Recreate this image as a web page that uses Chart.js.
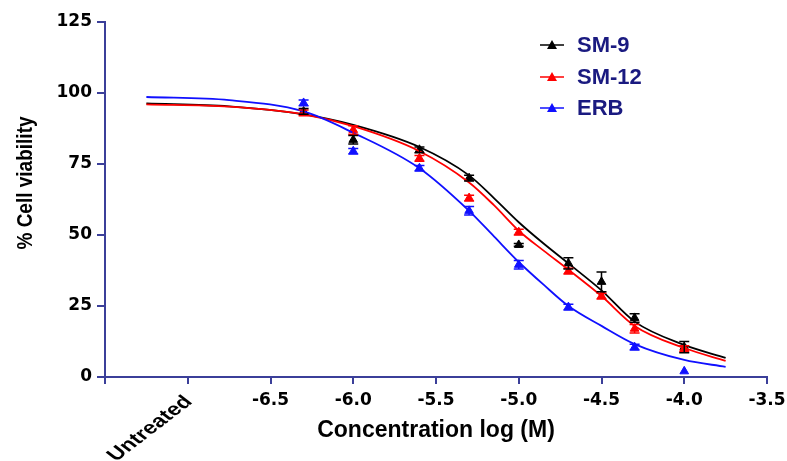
<!DOCTYPE html>
<html>
<head>
<meta charset="utf-8">
<script src="https://cdn.jsdelivr.net/npm/chart.js@4.4.1/dist/chart.umd.min.js"></script>
<style>
  html, body { margin: 0; padding: 0; background: #fff; }
  #wrap { width: 787px; height: 461px; }
</style>
</head>
<body>
<div id="wrap"><canvas id="chart"></canvas></div>
<script>
// measured points (log M)
const concX = [-6.3, -6.0, -5.6, -5.3, -5.0, -4.7, -4.5, -4.3, -4.0];
const sm9 = [93.5, 83.5, 80, 70, 46.5, 40, 33.5, 20.8, 10.5];
const sm9Err = [1, 1.5, 1, 1, 0.5, 2, 3.5, 1.5, 2];
const sm12 = [93, 87, 77, 63, 51, 37.3, 28.5, 17, 10];
const sm12Err = [1, 1.5, 1, 1, 1, 1, 1, 1.5, 1];
const erb = [96.5, 79.5, 73.5, 58.5, 39.5, 24.6, null, 10.5, 2];
const erbErr = [1, 1, 1, 1.5, 1.5, 1, 0, 1, 0];

// fitted curves
const fitX = [-7.25, -6.75, -6.3, -6.0, -5.6, -5.3, -5.15, -5.0, -4.85, -4.7, -4.5, -4.3, -4.0, -3.75];
const sm9Fit = [96.3, 95.3, 92.5, 88.8, 81, 71, 63, 54.5, 47, 40, 30.5, 19.5, 11.3, 6.7];
const sm12Fit = [96, 95.2, 92.5, 88.3, 79.5, 68.5, 60.5, 51.5, 44.5, 37.8, 28.5, 18, 10.2, 5.7];
const erbFit = [98.6, 97.5, 93.5, 86, 73.5, 58.5, 49.5, 40.5, 32.5, 25, 18, 11.6, 6, 3.6];

const seriesNames = ["SM-9", "SM-12", "ERB"];
const seriesColors = ["#000000", "#ff0000", "#1010ff"];
const xTickLabels = { "-7": "Untreated", "-7.5": "" };

const axisColor = "#3b3f99";
const font = "'Liberation Sans', Arial, sans-serif";
const tickFont = "'DejaVu Sans', sans-serif";

function pts(xs, ys) {
    return xs.map((x, i) => ({ x: x, y: ys[i] })).filter(p => p.y !== null);
}

const pointSets = [sm9, sm12, erb];
const errSets = [sm9Err, sm12Err, erbErr];
const fitSets = [sm9Fit, sm12Fit, erbFit];

const datasets = [];
// lines first so markers sit on top
[2, 1, 0].forEach(i => {
    datasets.push({
        label: seriesNames[i] + " fit",
        data: pts(fitX, fitSets[i]),
        showLine: true,
        borderColor: seriesColors[i],
        borderWidth: 1.8,
        pointRadius: 0,
        cubicInterpolationMode: "monotone",
        fill: false
    });
});
[2, 1, 0].forEach(i => {
    datasets.push({
        label: seriesNames[i],
        data: pts(concX, pointSets[i]),
        showLine: false,
        pointStyle: "triangle",
        pointRadius: 5,
        backgroundColor: seriesColors[i],
        borderColor: seriesColors[i],
        errs: errSets[i]
    });
});

const extras = {
    id: "extras",
    afterDatasetsDraw(chart) {
        const ctx = chart.ctx;
        const xs = chart.scales.x, ys = chart.scales.y;

        // error bars
        chart.data.datasets.forEach(ds => {
            if (!ds.errs) return;
            ctx.save();
            ctx.strokeStyle = ds.borderColor;
            ctx.lineWidth = 1.5;
            ds.data.forEach(p => {
                const idx = concX.indexOf(p.x);
                const e = ds.errs[idx];
                if (!e) return;
                const px = xs.getPixelForValue(p.x);
                const top = ys.getPixelForValue(p.y + e);
                const bot = ys.getPixelForValue(p.y - e);
                ctx.beginPath();
                ctx.moveTo(px, top); ctx.lineTo(px, bot);
                ctx.moveTo(px - 5, top); ctx.lineTo(px + 5, top);
                ctx.moveTo(px - 5, bot); ctx.lineTo(px + 5, bot);
                ctx.stroke();
            });
            ctx.restore();
        });
    },
    afterDraw(chart) {
        const ctx = chart.ctx;
        const xs = chart.scales.x;
        const area = chart.chartArea;

        // rotated "Untreated" label (picture is stretched sideways)
        ctx.save();
        ctx.fillStyle = "#000";
        ctx.font = "bold 18px " + font;
        ctx.translate(xs.getPixelForValue(-7) + 1, area.bottom + 22);
        ctx.scale(1.3, 1);
        ctx.rotate(-Math.PI / 4);
        ctx.textAlign = "right";
        ctx.textBaseline = "middle";
        ctx.fillText(xTickLabels["-7"], 0, 0);
        ctx.restore();

        // axis titles
        ctx.save();
        ctx.fillStyle = "#000";
        ctx.font = "bold 23px " + font;
        ctx.textAlign = "center";
        ctx.textBaseline = "middle";
        ctx.fillText("Concentration log (M)", (area.left + area.right) / 2, 431);
        ctx.translate(26, 183);
        ctx.scale(1.2, 1);
        ctx.rotate(-Math.PI / 2);
        ctx.font = "bold 19px " + font;
        ctx.fillText("% Cell viability", 0, 0);
        ctx.restore();

        // legend
        ctx.save();
        const lx = 540, ly = [45, 77, 108];
        seriesNames.forEach((name, i) => {
            const c = seriesColors[i];
            ctx.strokeStyle = c;
            ctx.fillStyle = c;
            ctx.lineWidth = 1.5;
            ctx.beginPath();
            ctx.moveTo(lx, ly[i]); ctx.lineTo(lx + 24, ly[i]);
            ctx.stroke();
            const cx = lx + 12, cy = ly[i];
            ctx.beginPath();
            ctx.moveTo(cx, cy - 5); ctx.lineTo(cx + 5, cy + 4); ctx.lineTo(cx - 5, cy + 4);
            ctx.closePath(); ctx.fill();
            ctx.fillStyle = "#1a1a80";
            ctx.font = "bold 22px " + font;
            ctx.textAlign = "left";
            ctx.textBaseline = "middle";
            ctx.fillText(name, 577, ly[i] + 1);
        });
        ctx.restore();
    }
};

new Chart(document.getElementById("chart"), {
    type: "scatter",
    data: { datasets: datasets },
    options: {
        responsive: true,
        maintainAspectRatio: false,
        animation: false,
        layout: { padding: { top: 22, right: 20, left: 0, bottom: 0 } },
        plugins: { legend: { display: false }, tooltip: { enabled: false } },
        scales: {
            x: {
                type: "linear",
                min: -7.5, max: -3.5,
                afterFit: s => { s.height = 84; s.paddingLeft = 0; s.paddingRight = 0; },
                border: { display: true, color: axisColor, width: 2 },
                grid: { display: true, drawOnChartArea: false, drawTicks: true, tickLength: 7, color: axisColor, lineWidth: 2 },
                ticks: {
                    stepSize: 0.5, autoSkip: false, maxRotation: 0, padding: 6,
                    color: "#000",
                    font: { family: tickFont, size: 17, weight: "bold" },
                    callback: v => (String(v) in xTickLabels) ? "" : v.toFixed(1)
                }
            },
            y: {
                min: 0, max: 125,
                afterFit: s => { s.width = 105; s.paddingTop = 0; s.paddingBottom = 0; },
                border: { display: true, color: axisColor, width: 2 },
                grid: { display: true, drawOnChartArea: false, drawTicks: true, tickLength: 8, color: axisColor, lineWidth: 2 },
                ticks: {
                    stepSize: 25, padding: 5, color: "#000",
                    font: { family: tickFont, size: 17, weight: "bold" }
                }
            }
        }
    },
    plugins: [extras]
});
</script>
</body>
</html>
